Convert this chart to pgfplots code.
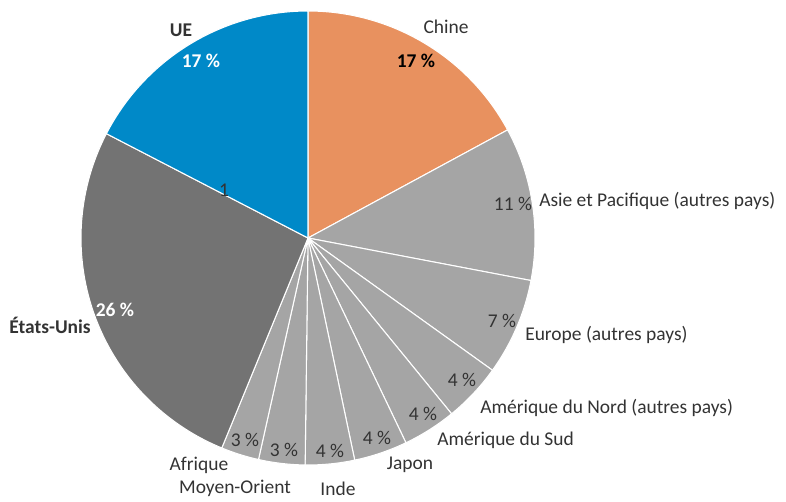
\documentclass[border=0pt]{standalone}
\usepackage{pgfplots}
\usepackage{pgfplotstable}
\pgfplotsset{compat=1.18}
\usepackage{fontspec}
\setmainfont{Carlito}
\definecolor{chine}{HTML}{E8915F}
\definecolor{ue}{HTML}{0089C8}
\definecolor{usa}{HTML}{737373}
\definecolor{autres}{HTML}{A5A5A5}
\definecolor{txt}{HTML}{333333}

% parts en %, dans le sens horaire depuis midi
\pgfplotstableread{
part col
17.1 chine
10.9 autres
6.9 autres
4.2 autres
3.8 autres
3.8 autres
3.5 autres
3.3 autres
2.7 autres
26.4 usa
17.4 ue
}\parts

\begin{document}
\begin{tikzpicture}[font=\fontsize{14.6}{17}\selectfont]
\begin{axis}[x=0.75pt,y=0.75pt,xmin=0,xmax=786,ymin=0,ymax=502,hide axis,clip=false,scale only axis]
\addplot[draw=none] coordinates {(0,0)(786,502)};
\pgfplotsextra{
  \pgfplotstablegetrowsof{\parts}
  \pgfmathtruncatemacro\lastrow{\pgfplotsretval-1}
  \gdef\acc{90}
  \foreach \i in {0,...,\lastrow}{
    \pgfplotstablegetelem{\i}{part}\of\parts \let\slicev\pgfplotsretval
    \pgfplotstablegetelem{\i}{col}\of\parts \let\slicecol\pgfplotsretval
    \pgfmathsetmacro\b{\acc-3.6*\slicev}
    \fill[fill=\slicecol,draw=white,line width=0.8pt,line join=round]
      (axis cs:308,264) -- ++(\acc:170.25pt) arc[start angle=\acc,end angle=\b,radius=170.25pt] -- cycle;
    \xdef\acc{\b}
  }
}
\tikzset{lab/.style={inner sep=0pt,text=txt}}
\node[lab] at (axis cs:181,472) {\bfseries UE};
\node[lab,text=white] at (axis cs:201,441) {\bfseries 17 \%};
\node[lab] at (axis cs:446,475) {Chine};
\node[lab,text=black] at (axis cs:416,441) {\bfseries 17 \%};
\node[lab] at (axis cs:224,312) {1};
\node[lab] at (axis cs:513,298) {11 \%};
\node[lab,anchor=west] at (axis cs:539,301) {Asie et Pacifique (autres pays)};
\node[lab] at (axis cs:502,181) {7 \%};
\node[lab,anchor=west] at (axis cs:525,167) {Europe (autres pays)};
\node[lab] at (axis cs:462,122) {4 \%};
\node[lab,anchor=west] at (axis cs:480,94) {Amérique du Nord (autres pays)};
\node[lab] at (axis cs:423,88) {4 \%};
\node[lab,anchor=west] at (axis cs:437,62) {Amérique du Sud};
\node[lab] at (axis cs:377,64) {4 \%};
\node[lab] at (axis cs:410,37) {Japon};
\node[lab] at (axis cs:330,51) {4 \%};
\node[lab] at (axis cs:338,13) {Inde};
\node[lab] at (axis cs:284,52) {3 \%};
\node[lab] at (axis cs:235,14) {Moyen-Orient};
\node[lab] at (axis cs:245,62) {3 \%};
\node[lab] at (axis cs:199,37) {Afrique};
\node[lab] at (axis cs:50,177) {\bfseries États-Unis};
\node[lab,text=white] at (axis cs:115,192) {\bfseries 26 \%};
\end{axis}
\end{tikzpicture}
\end{document}
